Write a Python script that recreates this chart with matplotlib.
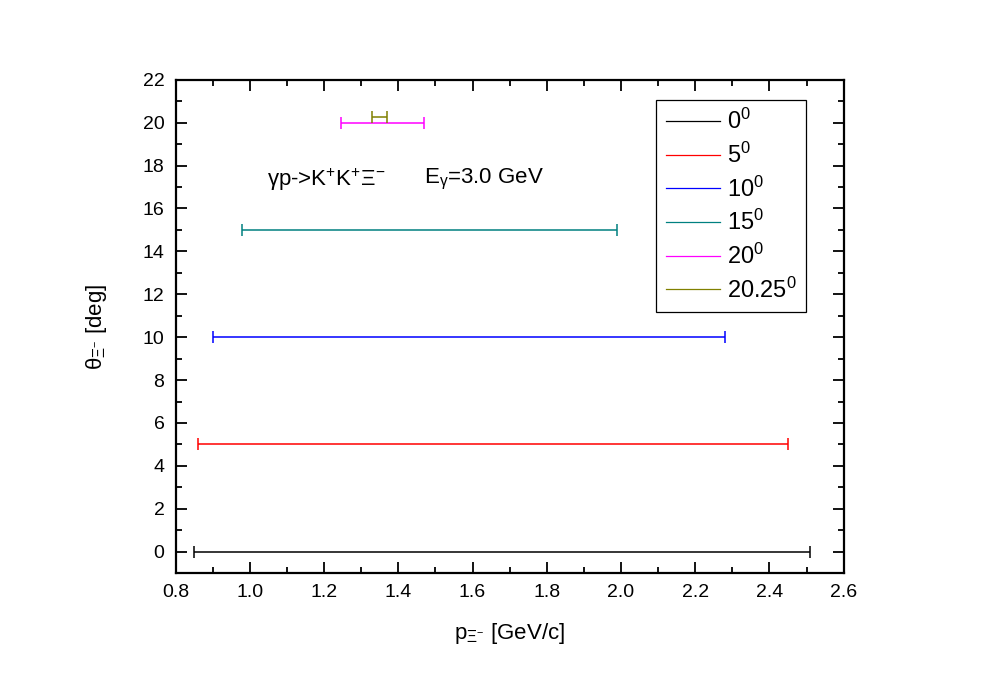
import numpy as np
import matplotlib
matplotlib.use('Agg')
import matplotlib.pyplot as plt
from matplotlib.lines import Line2D
from matplotlib.ticker import MultipleLocator

plt.rcParams['font.family'] = ['Liberation Sans', 'DejaVu Sans']
plt.rcParams['mathtext.fontset'] = 'custom'
plt.rcParams['mathtext.rm'] = 'Liberation Sans'
plt.rcParams['mathtext.it'] = 'Liberation Sans'
plt.rcParams['mathtext.bf'] = 'Liberation Sans:bold'

# ------------------------------
# data: momentum range of Xi- at each angle
# ------------------------------
angles = [0, 5, 10, 15, 20, 20.25]
p_low = [0.85, 0.86, 0.90, 0.98, 1.245, 1.33]
p_high = [2.51, 2.45, 2.28, 1.99, 1.47, 1.37]
labels = ['0$^0$', '5$^0$', '10$^0$', '15$^0$', '20$^0$', '20.25$^0$']
colors = ['black', 'red', 'blue', '#008080', 'magenta', '#808000']

fig = plt.figure(figsize=(9.81, 6.88), dpi=100)
ax = fig.add_axes([0.179, 0.167, 0.681, 0.717])

handles = []
for ang, lo, hi, lab, c in zip(angles, p_low, p_high, labels, colors):
    mid = (lo + hi) / 2
    half = (hi - lo) / 2
    ax.errorbar([mid], [ang], xerr=[half], fmt='none', ecolor=c,
                elinewidth=1.1, capsize=4.5, capthick=1.1)
    handles.append(Line2D([0], [0], color=c, lw=0.9))

ax.set_xlim(0.8, 2.6)
ax.set_ylim(-1, 22)
ax.xaxis.set_major_locator(MultipleLocator(0.2))
ax.xaxis.set_minor_locator(MultipleLocator(0.1))
ax.yaxis.set_major_locator(MultipleLocator(2))
ax.yaxis.set_minor_locator(MultipleLocator(1))
ax.xaxis.set_major_formatter(plt.FuncFormatter(lambda v, p: '%.1f' % v))

ax.tick_params(which='both', direction='in', top=True, right=True,
               labelsize=14, width=1.3, pad=8)
ax.tick_params(which='major', length=8)
ax.tick_params(which='minor', length=4)
for s in ax.spines.values():
    s.set_linewidth(1.6)

ax.set_xlabel(r'p$_{\Xi^{-}}$ [GeV/c]', fontsize=16, labelpad=14)
ax.set_ylabel(r'$\theta_{\Xi^{-}}$ [deg]', fontsize=16, labelpad=24)

ax.text(1.045, 17.35, r'$\gamma$p->K$^{+}$K$^{+}\Xi^{-}$', fontsize=16, va='center')
ax.text(1.47, 17.35, r'E$_{\gamma}$=3.0 GeV', fontsize=16, va='center')

leg = ax.legend(handles, labels, loc='upper right',
                bbox_to_anchor=(0.944, 0.960), fontsize=17,
                handlelength=2.3, handletextpad=0.3, labelspacing=0.36,
                borderpad=0.4, borderaxespad=0,
                fancybox=False, framealpha=1, edgecolor='black')
leg.get_frame().set_linewidth(0.9)

plt.savefig('out.png', dpi=100)
